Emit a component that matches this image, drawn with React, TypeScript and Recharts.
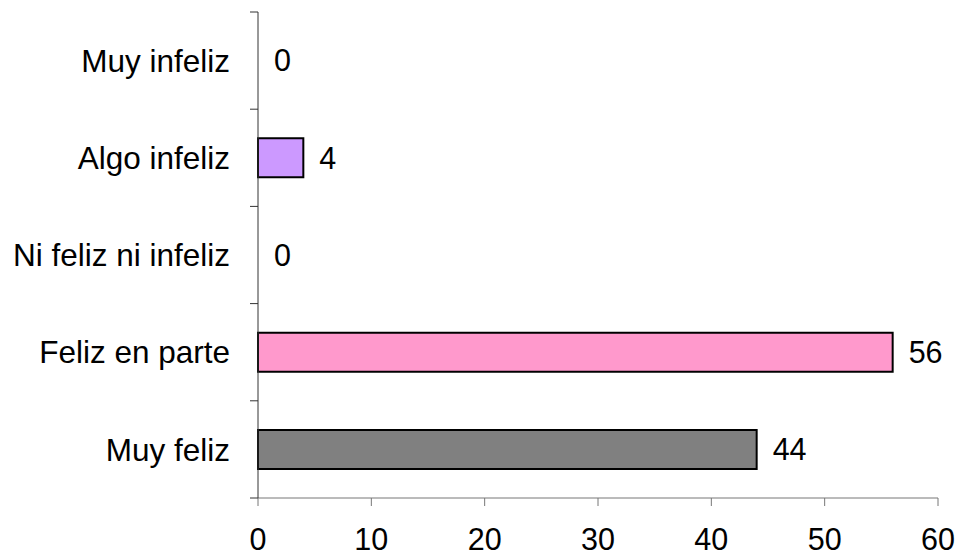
import { Bar, BarChart, Cell, LabelList, XAxis, YAxis } from "recharts";

const categories = [
  "Muy infeliz",
  "Algo infeliz",
  "Ni feliz ni infeliz",
  "Feliz en parte",
  "Muy feliz",
];
const counts = [0, 4, 0, 56, 44];
const barColors = ["#CC99FF", "#CC99FF", "#FFFFFF", "#FF99CC", "#808080"];
const xTicks = [0, 10, 20, 30, 40, 50, 60];

const data = categories.map((name, i) => ({ name, value: counts[i] }));

const FONT = "'Liberation Sans', Arial, sans-serif";

// category label plus the tick marks on the band edges (Excel style)
function CategoryTick(props: any) {
  const { x, y, payload, index } = props;
  const half = payload?.offset ?? 0;
  const axisX = x + 28;
  return (
    <g>
      <line x1={axisX - 8} x2={axisX} y1={y + half} y2={y + half} stroke="#333" />
      {index === 0 && (
        <line x1={axisX - 8} x2={axisX} y1={y - half} y2={y - half} stroke="#333" />
      )}
      <text
        x={x}
        y={y}
        dy="0.355em"
        textAnchor="end"
        fontSize={31.5}
        fontFamily={FONT}
        fill="#000"
      >
        {payload.value}
      </text>
    </g>
  );
}

function ValueLabel(p: any) {
  const x = Number(p.x) + Number(p.width || 0) + 16;
  const y = Number(p.y) + Number(p.height || 0) / 2;
  return (
    <text x={x} y={y} dy="0.355em" fontSize={30.5} fontFamily={FONT} fill="#000">
      {String(p.value)}
    </text>
  );
}

export default function App() {
  return (
    <div style={{ position: "absolute", left: 8, top: 8 }}>
      <BarChart
        width={951}
        height={550}
        layout="vertical"
        data={data}
        barCategoryGap="30%"
        margin={{ top: 4, right: 21, bottom: 0, left: 0 }}
      >
        <XAxis
          type="number"
          domain={[0, 60]}
          ticks={xTicks}
          height={60}
          tickSize={8}
          tickMargin={22}
          stroke="#777"
          tick={{ fontSize: 30.5, fontFamily: FONT, fill: "#000" }}
        />
        <YAxis
          type="category"
          dataKey="name"
          width={250}
          tickSize={0}
          tickMargin={28}
          tickLine={false}
          stroke="#333"
          tick={<CategoryTick />}
          interval={0}
        />
        <Bar
          dataKey="value"
          stroke="#000"
          strokeWidth={2}
          minPointSize={0.01}
          isAnimationActive={false}
        >
          {data.map((d, i) => (
            <Cell
              key={d.name}
              fill={d.value === 0 ? "none" : barColors[i]}
              stroke={d.value === 0 ? "none" : "#000"}
            />
          ))}
          <LabelList dataKey="value" content={<ValueLabel />} />
        </Bar>
      </BarChart>
    </div>
  );
}
